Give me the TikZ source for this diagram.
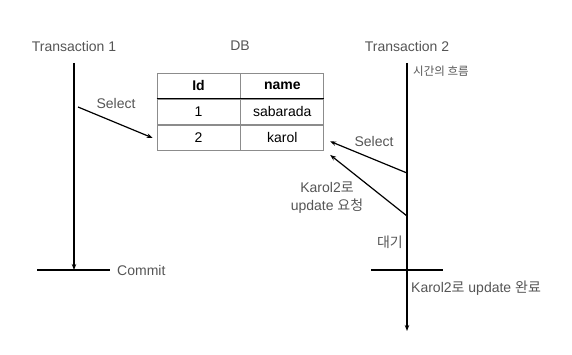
\documentclass[tikz,border=0pt]{standalone}
\usepackage{fontspec}
\setmainfont{Liberation Sans}
\newfontfamily\kr{Noto Sans CJK KR}
\usetikzlibrary{arrows.meta, positioning}
\definecolor{lblgray}{RGB}{85,85,85}
\definecolor{cellgray}{RGB}{140,140,140}

\begin{document}
\begin{tikzpicture}[x=1pt, y=-1pt, font=\fontsize{14}{18}\selectfont]
    \tikzstyle{lbl} = [text=lblgray, inner sep=0pt]
    \tikzstyle{cell} = [rectangle, draw=cellgray, line width=0.8pt, minimum width=83pt, minimum height=25.3pt, inner sep=0pt, text=black]
    \tikzstyle{life} = [line width=1.2pt]
    \tikzstyle{arrow} = [life, -{Stealth[length=6pt, width=4.5pt]}]

    \useasboundingbox (0,0) rectangle (572,355);

    % titles
    \node (t1) [lbl] at (74,46) {Transaction 1};
    \node (db) [lbl] at (240,46) {DB};
    \node (t2) [lbl] at (407,46) {Transaction 2};

    % table
    \node (idh) [cell, font=\fontsize{14}{18}\bfseries] at (198.5,85.7) {Id};
    \node (nameh) [cell, font=\fontsize{14}{18}\bfseries, right=0pt of idh] {name};
    \node (id1) [cell, below=0pt of idh] {1};
    \node (name1) [cell, right=0pt of id1] {sabarada};
    \node (id2) [cell, below=0pt of id1] {2};
    \node (name2) [cell, right=0pt of id2] {karol};
    \draw [life, black] (idh.south west) -- (nameh.south east);

    % transaction 1
    \coordinate (t1top) at (74,63);
    \coordinate (t1end) at (74,270);
    \draw [arrow] (t1top) -- (t1end);
    \coordinate (c1l) at (37,270);
    \coordinate (c1r) at (110,270);
    \draw [life] (c1l) -- (c1r);
    \node (commit) [lbl, anchor=west] at (117,270) {Commit};

    \coordinate (s1) at (78,107);
    \draw [arrow] (s1) -- ([xshift=-4pt]id2.west);
    \node (sel1) [lbl] at (116,103) {Select};

    % transaction 2
    \coordinate (t2top) at (407,63);
    \coordinate (t2end) at (407,331);
    \draw [arrow] (t2top) -- (t2end);
    \node (flow) [lbl, anchor=west, font=\kr\fontsize{11.5}{13}\selectfont] at (413,71) {시간의 흐름};

    \coordinate (s2) at (407,173);
    \draw [arrow] (s2) -- ([xshift=6pt, yshift=-3.5pt]name2.east);
    \node (sel2) [lbl] at (374,141) {Select};

    \coordinate (u2) at (407,216);
    \draw [arrow] (u2) -- ([xshift=6pt, yshift=-4pt]name2.south east);
    \node (upd) [lbl, align=center] at (327,198) {Karol2{\kr 로}\\update {\kr 요청}};

    \node (wait) [lbl, anchor=east] at (403,242) {\kr 대기};
    \coordinate (c2l) at (371,270);
    \coordinate (c2r) at (443,270);
    \draw [life] (c2l) -- (c2r);
    \node (done) [lbl, anchor=west] at (411,288) {Karol2{\kr 로} update {\kr 완료}};
\end{tikzpicture}
\end{document}
